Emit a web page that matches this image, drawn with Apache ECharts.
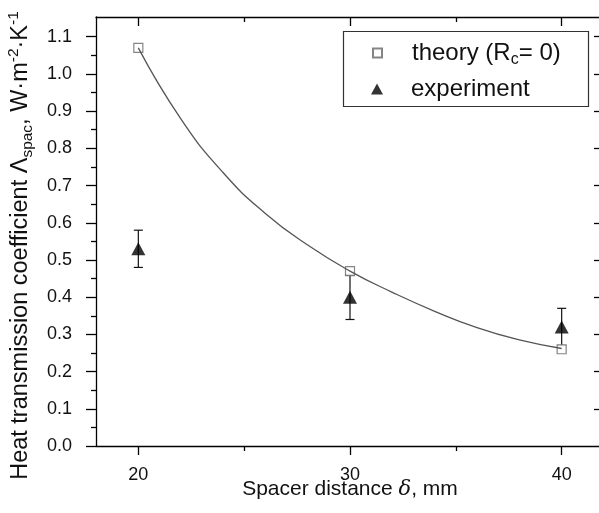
<!DOCTYPE html>
<html>
<head>
<meta charset="utf-8">
<script src="https://cdn.jsdelivr.net/npm/echarts@6/dist/echarts.min.js"></script>
<style>
html,body{margin:0;padding:0;background:#fff;}
#main{width:599px;height:513px;}
</style>
</head>
<body>
<div id="main"></div>
<script>
// ---- data ----
const theoryX = [20, 30, 40];
const theoryY = [1.07, 0.47, 0.26];
const expX = [20, 30, 40];
const expY = [0.53, 0.40, 0.32];
const expLow = [0.48, 0.34, 0.27];
const expHigh = [0.58, 0.46, 0.37];
// fitted curve
const curveX = [20, 22, 24, 26, 28, 30, 32, 34, 36, 38, 40];
const curveY = [1.07, 0.88, 0.735, 0.625, 0.54, 0.47, 0.413, 0.362, 0.318, 0.285, 0.262];
// ticks
const xMajor = [20, 30, 40];
const xMinor = [25, 35];
const yMajor = [0, 0.1, 0.2, 0.3, 0.4, 0.5, 0.6, 0.7, 0.8, 0.9, 1.0, 1.1];
const yMinor = [0.05, 0.15, 0.25, 0.35, 0.45, 0.55, 0.65, 0.75, 0.85, 0.95, 1.05];
const yRight = [0.1, 0.2, 0.3, 0.4, 0.5, 0.6, 0.7, 0.8, 0.9, 1.0, 1.1];

const FONT = '"Liberation Sans", Arial, Helvetica, sans-serif';
const X_MIN = 18, X_MAX = 42, Y_MIN = 0, Y_MAX = 1.153;

const chart = echarts.init(document.getElementById('main'), null, {renderer: 'canvas'});

function xAxisBase(extra) {
  return Object.assign({
    type: 'value', min: X_MIN, max: X_MAX, gridIndex: 0,
    splitLine: {show: false},
    axisLine: {show: false, onZero: false, lineStyle: {color: '#000', width: 1.3}},
    axisLabel: {show: false},
    axisTick: {show: false}
  }, extra);
}
function yAxisBase(extra) {
  return Object.assign({
    type: 'value', min: Y_MIN, max: Y_MAX, gridIndex: 0,
    splitLine: {show: false},
    axisLine: {show: false, onZero: false, lineStyle: {color: '#000', width: 1.3}},
    axisLabel: {show: false},
    axisTick: {show: false}
  }, extra);
}

const option = {
  backgroundColor: '#fff',
  animation: false,
  textStyle: {fontFamily: FONT},
  grid: {left: 96, top: 17, width: 508, height: 429, containLabel: false, outerBoundsMode: 'none'},
  xAxis: [
    xAxisBase({
      position: 'bottom',
      axisLine: {show: true, onZero: false, lineStyle: {color: '#000', width: 1.3}},
      axisTick: {show: true, inside: false, length: 9, customValues: xMajor, lineStyle: {color: '#000', width: 1.3}},
      axisLabel: {show: true, customValues: xMajor, margin: 20, fontSize: 18, color: '#111', fontFamily: FONT},
      name: '{a|Spacer distance }{i|δ}{a|, mm}',
      nameLocation: 'middle',
      nameGap: 33,
      nameMoveOverlap: false,
      nameTextStyle: {
        fontFamily: FONT,
        rich: {
          a: {fontSize: 21, color: '#111', fontFamily: FONT},
          i: {fontSize: 21, color: '#111', fontStyle: 'italic', fontFamily: '"DejaVu Serif", serif'}
        }
      }
    }),
    xAxisBase({
      position: 'bottom',
      axisTick: {show: true, inside: false, length: 5, customValues: xMinor, lineStyle: {color: '#000', width: 1.3}}
    }),
    xAxisBase({
      position: 'top',
      axisLine: {show: true, onZero: false, lineStyle: {color: '#000', width: 1.3}},
      axisTick: {show: true, inside: true, length: 9, customValues: xMajor, lineStyle: {color: '#000', width: 1.3}}
    }),
    xAxisBase({
      position: 'top',
      axisTick: {show: true, inside: true, length: 5, customValues: xMinor, lineStyle: {color: '#000', width: 1.3}}
    })
  ],
  yAxis: [
    yAxisBase({
      position: 'left',
      axisLine: {show: true, onZero: false, lineStyle: {color: '#000', width: 1.3}},
      axisTick: {show: true, inside: false, length: 10, customValues: yMajor, lineStyle: {color: '#000', width: 1.3}},
      axisLabel: {show: true, customValues: yMajor, margin: 24, fontSize: 18, color: '#111', fontFamily: FONT,
        formatter: v => v.toFixed(1)},
      name: '{a|Heat transmission coefficient Λ}{b|spac}{a|, W·m}{c|-2}{a|·K}{c|-1}',
      nameLocation: 'middle',
      nameRotate: 90,
      nameGap: 60,
      nameMoveOverlap: false,
      nameTextStyle: {
        fontFamily: FONT,
        padding: [0, 28, 0, 0],
        rich: {
          a: {fontSize: 23.5, color: '#111', lineHeight: 30, verticalAlign: 'middle', fontFamily: FONT},
          b: {fontSize: 15.5, color: '#111', lineHeight: 15, verticalAlign: 'bottom', fontFamily: FONT},
          c: {fontSize: 15.5, color: '#111', lineHeight: 15, verticalAlign: 'top', fontFamily: FONT}
        }
      }
    }),
    yAxisBase({
      position: 'left',
      axisTick: {show: true, inside: false, length: 5, customValues: yMinor, lineStyle: {color: '#000', width: 1.3}}
    }),
    yAxisBase({
      position: 'right',
      axisLine: {show: true, onZero: false, lineStyle: {color: '#000', width: 1.3}},
      axisTick: {show: true, inside: true, length: 10, customValues: yRight, lineStyle: {color: '#000', width: 1.3}}
    })
  ],
  legend: [
    {
      data: ['theory'],
      left: 372, top: 41,
      orient: 'vertical',
      padding: 0,
      itemWidth: 9, itemHeight: 9,
      selectedMode: false,
      formatter: () => '{a|theory (R}{s|c}{a|= 0)}',
      textStyle: {
        padding: [0, 0, 0, 25],
        rich: {
          a: {fontSize: 24, color: '#111', lineHeight: 30, verticalAlign: 'middle', fontFamily: FONT},
          s: {fontSize: 16, color: '#111', lineHeight: 16, verticalAlign: 'bottom', fontFamily: FONT}
        }
      }
    },
    {
      data: ['experiment'],
      left: 371, top: 77,
      orient: 'vertical',
      padding: 0,
      itemWidth: 12, itemHeight: 11,
      selectedMode: false,
      textStyle: {
        padding: [0, 0, 0, 23],
        fontSize: 24, color: '#111', fontFamily: FONT
      }
    }
  ],
  graphic: [
    {
      type: 'rect',
      shape: {x: 343.5, y: 31.5, width: 245, height: 75},
      style: {fill: 'transparent', stroke: '#333', lineWidth: 1.2},
      z: 100
    }
  ],
  series: [
    {
      name: 'errorbars',
      type: 'custom',
      xAxisIndex: 0, yAxisIndex: 0,
      z: 2,
      data: expX.map((x, i) => [x, expLow[i], expHigh[i]]),
      renderItem: function (params, api) {
        const x = api.value(0);
        const top = api.coord([x, api.value(2)]);
        const bot = api.coord([x, api.value(1)]);
        const hw = 4.5;
        const st = {stroke: '#111', lineWidth: 1.2};
        return {
          type: 'group',
          children: [
            {type: 'line', shape: {x1: top[0], y1: top[1], x2: bot[0], y2: bot[1]}, style: st},
            {type: 'line', shape: {x1: top[0] - hw, y1: top[1], x2: top[0] + hw, y2: top[1]}, style: st},
            {type: 'line', shape: {x1: bot[0] - hw, y1: bot[1], x2: bot[0] + hw, y2: bot[1]}, style: st}
          ]
        };
      }
    },
    {
      name: 'theory',
      type: 'scatter',
      xAxisIndex: 0, yAxisIndex: 0,
      z: 3,
      symbol: 'rect',
      symbolSize: 9,
      itemStyle: {color: '#fff', borderColor: '#666', borderWidth: 1.2},
      data: theoryX.map((x, i) => [x, theoryY[i]])
    },
    {
      name: 'fit',
      type: 'line',
      xAxisIndex: 0, yAxisIndex: 0,
      z: 4,
      smooth: 0.5,
      showSymbol: false,
      symbol: 'none',
      lineStyle: {color: '#555', width: 1.3},
      data: curveX.map((x, i) => [x, curveY[i]])
    },
    {
      name: 'experiment',
      type: 'scatter',
      xAxisIndex: 0, yAxisIndex: 0,
      z: 5,
      symbol: 'triangle',
      symbolSize: [14, 13],
      itemStyle: {color: '#000'},
      data: expX.map((x, i) => [x, expY[i]])
    }
  ]
};
chart.setOption(option);
</script>
</body>
</html>
